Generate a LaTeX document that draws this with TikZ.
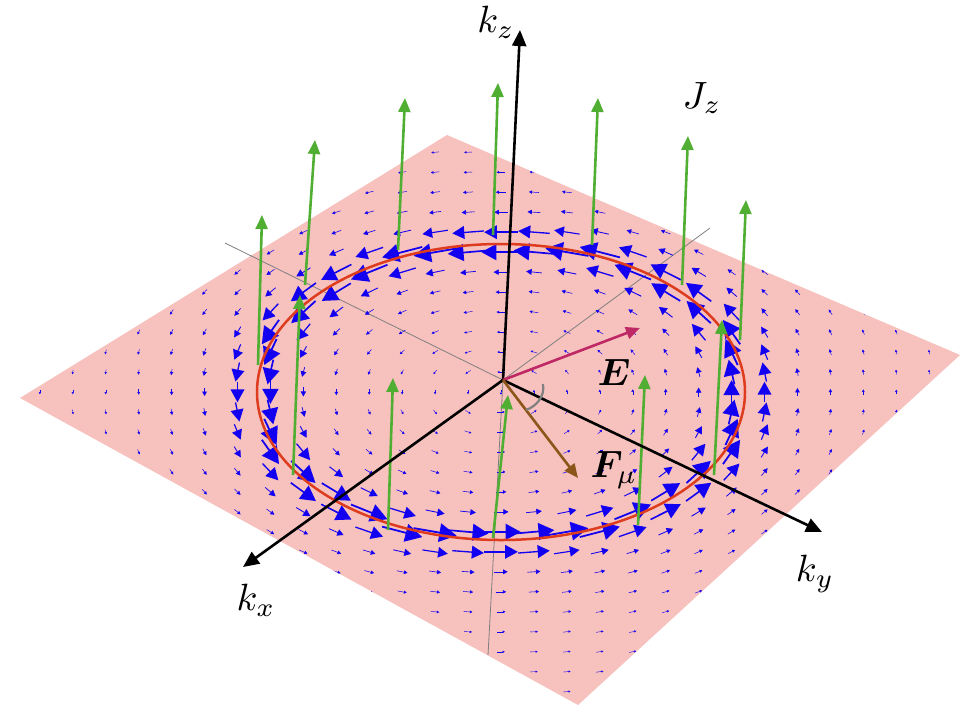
\documentclass[tikz,border=0pt]{standalone}
\usepackage{bm}
\usetikzlibrary{arrows.meta}
\definecolor{planec}{RGB}{247,193,190}
\definecolor{ringc}{RGB}{222,60,30}
\definecolor{jc}{RGB}{80,175,50}
\definecolor{ec}{RGB}{190,40,100}
\definecolor{fc}{RGB}{140,85,25}
\definecolor{fldc}{RGB}{20,0,240}
\tikzset{
 axis/.style={black,line width=2.6pt,-{Triangle[length=16pt,width=14pt]}},
 jarrow/.style={jc,line width=2.6pt,-{Triangle[length=14pt,width=12pt]}},
 grayline/.style={gray,line width=0.8pt},
 lab/.style={inner sep=0pt},
}
\begin{document}
\begin{tikzpicture}[x=1pt,y=-1pt]
\useasboundingbox (0,0) rectangle (976,726);
\coordinate (P1) at (447,135);
\coordinate (P2) at (960,355);
\coordinate (P3) at (578,705);
\coordinate (P4) at (20,398);
\fill[planec] (P1)--(P2)--(P3)--(P4)--cycle;
\coordinate (O) at (503,380);
\coordinate (G1) at (225,243);
\coordinate (G2) at (710,228);
\coordinate (G3) at (488,655);
\draw[grayline] (G1)--(O) (G2)--(O) (O)--(G3);
\begin{scope}
\clip (P1)--(P2)--(P3)--(P4)--cycle;
\begin{scope}[shift={(501,392)},x={(244pt,0pt)},y={(0pt,148pt)}]
\foreach \i in {-16,...,16}{\foreach \j in {-18,...,15}{
 \pgfmathsetmacro\xx{\i*0.135}
 \pgfmathsetmacro\yy{\j*0.135}
 \pgfmathsetmacro\rr{max(sqrt(\xx*\xx+\yy*\yy),0.01)}
 \pgfmathsetmacro\dd{min(((\rr-1)/0.12)^2,30)}
 \pgfmathsetmacro\mm{exp(-\dd)+0.2*exp(-min(((\rr-1)/0.4)^2,30))}
 \pgfmathsetmacro\LL{0.03+0.13*\mm}
 \pgfmathsetmacro\tx{-\yy/\rr*\LL}
 \pgfmathsetmacro\ty{\xx/\rr*\LL}
 \pgfmathsetmacro\lw{0.4+1.2*\mm}
 \pgfmathsetmacro\tl{2+13*\mm}
 \pgfmathsetmacro\tw{2+14*\mm}
 \draw[fldc,line width=\lw pt,-{Triangle[length=\tl pt,width=\tw pt]}] (\xx-\tx/2,\yy-\ty/2) -- (\xx+\tx/2,\yy+\ty/2);
}}
\draw[ringc,line width=2.5pt] (0,0) circle (1);
\end{scope}
\end{scope}
% green Jz arrows
\foreach \a/\b/\c/\d [count=\n] in {258/365/262/215, 305/285/315/140, 398/250/405/98, 493/235/498/83, 592/245/598/98, 682/285/688/136, 740/340/746/200, 293/475/300/295, 388/530/393/378, 493/538/508/395, 638/525/645/375, 714/475/722/320}{
 \coordinate (ja\n) at (\a,\b); \coordinate (jb\n) at (\c,\d);
 \draw[jarrow] (ja\n)--(jb\n);
}
\coordinate (KX) at (243,567);
\coordinate (KY) at (822,532);
\coordinate (KZ) at (520,30);
\draw[axis] (O)--(KX);
\draw[axis] (O)--(KY);
\draw[axis] (O)--(KZ);
\coordinate (E) at (640,328);
\coordinate (F) at (578,478);
\draw[ec,line width=2.6pt,-{Triangle[length=14pt,width=12pt]}] (O)--(E);
\draw[fc,line width=2.6pt,-{Triangle[length=14pt,width=12pt]}] (O)--(F);
\coordinate (A1) at (543,384);
\coordinate (A2) at (526,410);
\draw[gray,line width=2.2pt] (A1) .. controls (545,396) and (537,406) .. (A2);
\node[lab] (lkz) at (496,22) {\scalebox{3.8}{$k_z$}};
\node[lab] (lkx) at (256,600) {\scalebox{3.8}{$k_x$}};
\node[lab] (lky) at (815,574) {\scalebox{3.8}{$k_y$}};
\node[lab] (ljz) at (702,98) {\scalebox{3.8}{$J_z$}};
\node[lab] (lE) at (614,372) {\scalebox{3.8}{$\bm{E}$}};
\node[lab] (lF) at (614,470) {\scalebox{3.8}{$\bm{F}_{\mu}$}};
\end{tikzpicture}
\end{document}
